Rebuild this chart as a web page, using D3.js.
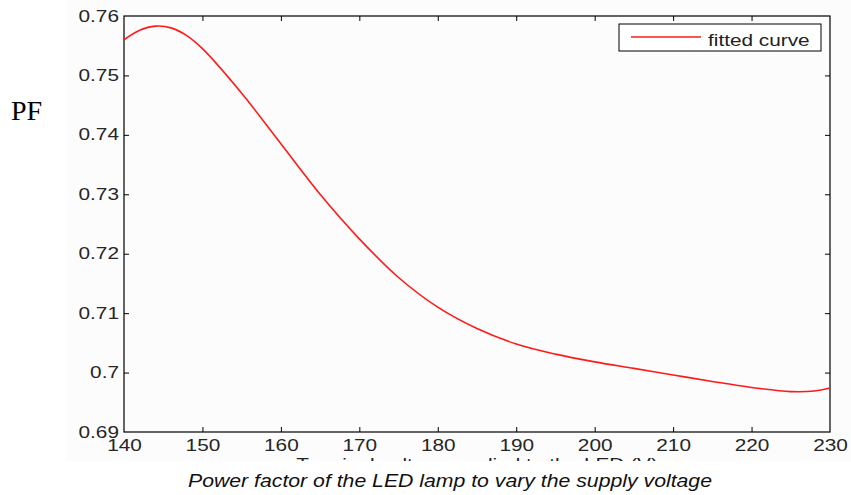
<!DOCTYPE html>
<html><head><meta charset="utf-8">
<script src="https://cdn.jsdelivr.net/npm/d3@7"></script>
<style>html,body{margin:0;padding:0;background:#fff;}svg{display:block;}</style>
</head><body>
<script>
const voltage = [140,142,144,146,148,150,155,160,165,170,175,180,185,190,195,200,205,210,215,220,225,228,230];
const pf = [0.7560,0.7576,0.7583,0.7580,0.7567,0.7545,0.7470,0.7385,0.7300,0.7225,0.7160,0.7110,0.7074,0.7048,0.7031,0.7018,0.7007,0.6996,0.6985,0.6975,0.6968,0.6969,0.6974];
const xTicks = [140,150,160,170,180,190,200,210,220,230];
const yTicks = [0.69,0.70,0.71,0.72,0.73,0.74,0.75,0.76];
const seriesName = "fitted curve";
const yLabel = "PF";
const xLabel = "Terminal voltage applied to the LED (V)";
const caption = "Power factor of the LED lamp to vary the supply voltage";

const W = 851, H = 495;
const m = {l:124, r:830, t:16, b:432};
const svg = d3.select("body").append("svg").attr("width",W).attr("height",H);
svg.append("rect").attr("x",66).attr("y",0).attr("width",W-66).attr("height",461).attr("fill","#fcfcfc");

const x = d3.scaleLinear().domain([140,230]).range([m.l,m.r]);
const y = d3.scaleLinear().domain([0.69,0.76]).range([m.b,m.t]);
const fmt = d => String(+d.toFixed(2));
const SX = 1.3;
const font = "'Liberation Sans', Arial, sans-serif";

const gx = svg.append("g").attr("transform",`translate(0,${m.b})`)
  .call(d3.axisBottom(x).tickValues(xTicks).tickFormat(fmt).tickSizeInner(-5).tickSizeOuter(0).tickPadding(7.6));
const gt = svg.append("g").attr("transform",`translate(0,${m.t})`)
  .call(d3.axisTop(x).tickValues(xTicks).tickFormat("").tickSizeInner(-5).tickSizeOuter(0));
const gy = svg.append("g").attr("transform",`translate(${m.l},0)`)
  .call(d3.axisLeft(y).tickValues(yTicks).tickFormat(fmt).tickSizeInner(-5).tickSizeOuter(0).tickPadding(5/SX));
const gr = svg.append("g").attr("transform",`translate(${m.r},0)`)
  .call(d3.axisRight(y).tickValues(yTicks).tickFormat("").tickSizeInner(-5).tickSizeOuter(0));

[gx,gt,gy,gr].forEach(g=>{
  g.select(".domain").remove();
  g.selectAll(".tick line").attr("stroke","#000").attr("stroke-width",1);
  g.selectAll(".tick text").attr("font-family",font).attr("font-size",16).attr("fill","#262626").attr("transform",`scale(${SX},1)`);
});
gx.selectAll(".tick").filter(d=>d===140||d===230).select("line").remove();
gt.selectAll(".tick").filter(d=>d===140||d===230).select("line").remove();
gy.selectAll(".tick").filter(d=>d===0.69||d===0.76).select("line").remove();
gr.selectAll(".tick").filter(d=>d===0.69||d===0.76).select("line").remove();

svg.append("rect").attr("x",m.l).attr("y",m.t).attr("width",m.r-m.l).attr("height",m.b-m.t)
  .attr("fill","none").attr("stroke","#000").attr("stroke-width",1.2);

const line = d3.line().x((d,i)=>x(voltage[i])).y(d=>y(d)).curve(d3.curveCatmullRom.alpha(0.5));
svg.append("path").datum(pf).attr("d",line).attr("fill","none").attr("stroke","#ff1a1a").attr("stroke-width",1.6);

const lg = svg.append("g");
lg.append("rect").attr("x",619).attr("y",24).attr("width",202).attr("height",27).attr("fill","#fff").attr("stroke","#000").attr("stroke-width",1);
lg.append("line").attr("x1",631).attr("x2",701).attr("y1",37).attr("y2",37).attr("stroke","#ff1a1a").attr("stroke-width",1.4);
lg.append("text").attr("transform",`translate(708,46) scale(${SX},1)`).attr("font-family",font).attr("font-size",16).attr("fill","#222").text(seriesName);

svg.append("text").attr("x",11).attr("y",120).attr("font-family","'Liberation Serif','Times New Roman',serif").attr("font-size",28).attr("fill","#000").text(yLabel);

svg.append("clipPath").attr("id","clipx").append("rect").attr("x",0).attr("y",0).attr("width",W).attr("height",461);
svg.append("g").attr("clip-path","url(#clipx)")
  .append("text").attr("transform",`translate(${(m.l+m.r)/2},469.5) scale(${SX},1)`).attr("text-anchor","middle")
  .attr("font-family",font).attr("font-size",16).attr("fill","#222").text(xLabel);

svg.append("text").attr("x",188).attr("y",487).attr("textLength",524).attr("lengthAdjust","spacingAndGlyphs")
  .attr("font-family",font).attr("font-style","italic").attr("font-size",18).attr("fill","#111").text(caption);
</script>
</body></html>
